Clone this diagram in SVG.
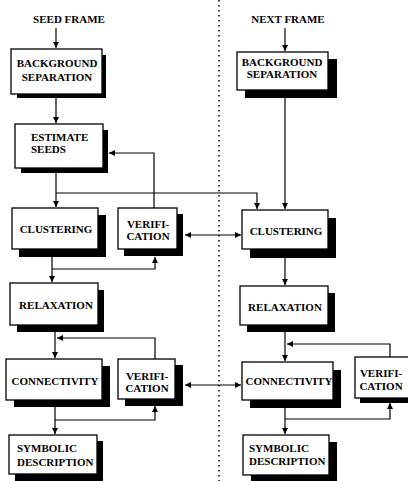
<svg xmlns="http://www.w3.org/2000/svg" width="408" height="481" viewBox="0 0 408 481">
<defs>
<style>
.box{fill:#fff;stroke:#000;stroke-width:1.3}
.sh{fill:#000}
text{font-family:"Liberation Serif","Times New Roman",serif;font-weight:bold;font-size:11px;fill:#000}
.c{text-anchor:middle}
.ln{fill:none;stroke:#000;stroke-width:1.2}
.dot{fill:none;stroke:#000;stroke-width:1.5;stroke-dasharray:1.5 3.5}
</style>
<marker id="ah" viewBox="0 0 10 10" refX="10" refY="5" markerWidth="6" markerHeight="6" markerUnits="userSpaceOnUse" orient="auto-start-reverse">
<path d="M0,0 L10,5 L0,10 z" fill="#000"/>
</marker>
</defs>
<rect width="408" height="481" fill="#fff"/>

<g id="divider"><line class="dot" x1="219" y1="0" x2="219" y2="481"/></g>

<g id="labels">
<text class="c" x="69" y="23">SEED FRAME</text>
<text class="c" x="288" y="23">NEXT FRAME</text>
</g>

<g id="bg1"><rect class="sh" x="17" y="55" width="89" height="43"/><rect class="box" x="11" y="49" width="91" height="45"/>
<text class="c" x="57" y="67">BACKGROUND</text><text class="c" x="57" y="81">SEPARATION</text></g>

<g id="es1"><rect class="sh" x="21" y="130" width="87" height="43"/><rect class="box" x="15" y="124" width="88" height="44"/>
<text x="31" y="141">ESTIMATE</text><text x="31" y="153">SEEDS</text></g>

<g id="cl1"><rect class="sh" x="19" y="215" width="87" height="42"/><rect class="box" x="12" y="208" width="86" height="41"/>
<text class="c" x="56" y="233">CLUSTERING</text></g>

<g id="ver1"><rect class="sh" x="124" y="214" width="59" height="42"/><rect class="box" x="118" y="208" width="59" height="41"/>
<text class="c" x="148" y="228">VERIFI-</text><text class="c" x="148" y="240">CATION</text></g>

<g id="rel1"><rect class="sh" x="17" y="290" width="87" height="42"/><rect class="box" x="10" y="283" width="88" height="42"/>
<text class="c" x="56" y="309">RELAXATION</text></g>

<g id="con1"><rect class="sh" x="14" y="366" width="96" height="41"/><rect class="box" x="6" y="359" width="96" height="41"/>
<text class="c" x="55" y="385">CONNECTIVITY</text></g>

<g id="ver2"><rect class="sh" x="125" y="365" width="58" height="41"/><rect class="box" x="118" y="359" width="57" height="40"/>
<text class="c" x="147" y="380">VERIFI-</text><text class="c" x="147" y="392">CATION</text></g>

<g id="sym1"><rect class="sh" x="15" y="441" width="88" height="40"/><rect class="box" x="9" y="435" width="88" height="39"/>
<text x="17" y="452">SYMBOLIC</text><text x="17" y="466">DESCRIPTION</text></g>

<g id="bg2"><rect class="sh" x="245" y="59" width="92" height="39"/><rect class="box" x="237" y="52" width="91" height="38"/>
<text class="c" x="282" y="66">BACKGROUND</text><text class="c" x="282" y="78">SEPARATION</text></g>

<g id="cl2"><rect class="sh" x="250" y="218" width="86" height="40"/><rect class="box" x="242" y="210" width="86" height="39"/>
<text class="c" x="286" y="235">CLUSTERING</text></g>

<g id="rel2"><rect class="sh" x="247" y="293" width="88" height="39"/><rect class="box" x="240" y="286" width="88" height="39"/>
<text class="c" x="285" y="311">RELAXATION</text></g>

<g id="con2"><rect class="sh" x="250" y="370" width="91" height="38"/><rect class="box" x="242" y="362" width="91" height="38"/>
<text class="c" x="289" y="385">CONNECTIVITY</text></g>

<g id="ver3"><rect class="sh" x="360" y="362" width="60" height="41"/><rect class="box" x="355" y="357" width="60" height="41"/>
<text class="c" x="381" y="377">VERIFI-</text><text class="c" x="381" y="390">CATION</text></g>

<g id="sym2"><rect class="sh" x="251" y="442" width="86" height="40"/><rect class="box" x="243" y="435" width="86" height="40"/>
<text x="249" y="452">SYMBOLIC</text><text x="249" y="465">DESCRIPTION</text></g>

<g id="connectors">
<path class="ln" d="M56,28 V48" marker-end="url(#ah)"/>
<path class="ln" d="M56,98 V123" marker-end="url(#ah)"/>
<path class="ln" d="M56,173 V207" marker-end="url(#ah)"/>
<path class="ln" d="M56,193 H257 V209" marker-end="url(#ah)"/>
<path class="ln" d="M154,208 V153 H109" marker-end="url(#ah)"/>
<path class="ln" d="M185,235 H241" marker-start="url(#ah)" marker-end="url(#ah)"/>
<path class="ln" d="M52,257 V282" marker-end="url(#ah)"/>
<path class="ln" d="M52,269 H155 V257" marker-end="url(#ah)"/>
<path class="ln" d="M55,332 V358" marker-end="url(#ah)"/>
<path class="ln" d="M155,359 V338 H57" marker-end="url(#ah)"/>
<path class="ln" d="M185,385 H241" marker-start="url(#ah)" marker-end="url(#ah)"/>
<path class="ln" d="M55,407 V434" marker-end="url(#ah)"/>
<path class="ln" d="M55,420 H155 V406" marker-end="url(#ah)"/>
<path class="ln" d="M285,28 V51" marker-end="url(#ah)"/>
<path class="ln" d="M285,98 V209" marker-end="url(#ah)"/>
<path class="ln" d="M285,258 V285" marker-end="url(#ah)"/>
<path class="ln" d="M285,332 V361" marker-end="url(#ah)"/>
<path class="ln" d="M390,357 V344 H287" marker-end="url(#ah)"/>
<path class="ln" d="M285,408 V434" marker-end="url(#ah)"/>
<path class="ln" d="M285,419 H390 V403" marker-end="url(#ah)"/>
</g>
</svg>
